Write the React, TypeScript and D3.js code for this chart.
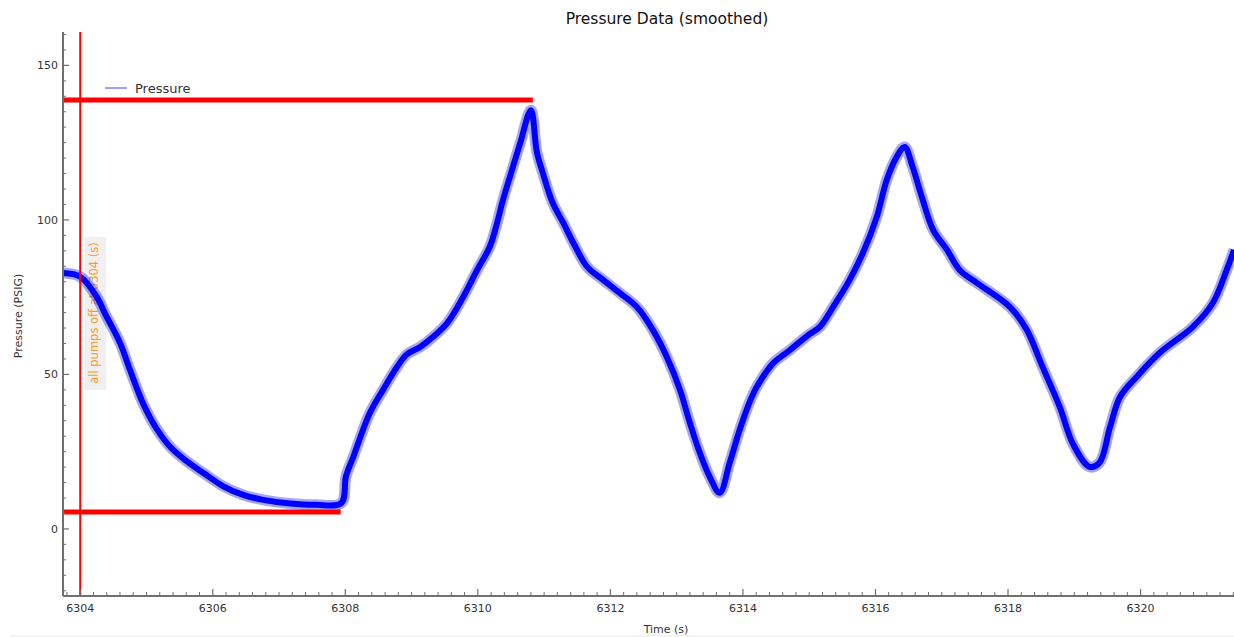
import React from "react";
import * as d3 from "d3";

// ---- data ----
const timeS = [
  6303.74, 6304.0, 6304.24, 6304.39, 6304.6, 6304.75, 6304.95, 6305.15, 6305.36, 6305.6,
  6305.86, 6306.16, 6306.46, 6306.76, 6307.17, 6307.56, 6307.94, 6308.01, 6308.12, 6308.37,
  6308.57, 6308.78, 6308.93, 6309.13, 6309.32, 6309.54, 6309.78, 6309.99, 6310.18, 6310.29,
  6310.38, 6310.53, 6310.64, 6310.8, 6310.89, 6310.98, 6311.13, 6311.29, 6311.44, 6311.65,
  6311.89, 6312.14, 6312.4, 6312.64, 6312.85, 6313.05, 6313.2, 6313.35, 6313.5, 6313.65,
  6313.8, 6313.95, 6314.11, 6314.21, 6314.45, 6314.71, 6314.97, 6315.16, 6315.36, 6315.61,
  6315.81, 6316.02, 6316.17, 6316.32, 6316.44, 6316.56, 6316.7, 6316.87, 6317.08, 6317.27,
  6317.53, 6318.03, 6318.28, 6318.52, 6318.78, 6318.98, 6319.23, 6319.38, 6319.54, 6319.69,
  6319.94, 6320.29, 6320.79, 6321.09, 6321.3, 6321.41,
];
const pressurePSIG = [
  82.8, 81.6, 75.4, 69.0, 60.2, 51.5, 40.5, 32.5, 26.5, 22.0,
  18.1, 13.8, 11.0, 9.4, 8.2, 7.8, 8.4, 17.0, 23.3, 37.5,
  45.0, 52.4, 56.5, 58.9, 62.1, 66.7, 75.1, 83.8, 91.3, 99.0,
  106.5, 117.2, 124.9, 135.5, 122.0, 115.2, 105.5, 99.0, 92.6, 84.8,
  80.6, 76.4, 71.8, 64.4, 55.7, 45.0, 34.3, 24.6, 16.8, 11.7,
  21.4, 32.0, 41.5, 46.0, 53.5, 57.9, 62.5, 65.4, 71.8, 80.6,
  89.3, 101.0, 112.9, 120.4, 123.6, 117.2, 107.4, 96.8, 90.3, 83.8,
  79.6, 71.8, 64.5, 52.5, 39.5, 27.5, 20.1, 21.4, 33.0, 42.7,
  49.2, 57.0, 65.4, 73.1, 83.8, 90.3,
];

const pumpsOffTime = 6304;
const maxLevel = { value: 138.8, until: 6310.83 };
const minLevel = { value: 5.5, until: 6307.93 };

const xDomain = [6303.74, 6321.41];
const yDomain = [-21.7, 160.8];
const yMajorTicks = [0, 50, 100, 150];
const xMajorTicks = [6304, 6306, 6308, 6310, 6312, 6314, 6316, 6318, 6320];

const W = 1234;
const H = 637;
const L = 63, R = 1234, T = 32, B = 596;
const FONT = "'DejaVu Sans', sans-serif";

export default function App() {
  const x = d3.scaleLinear().domain(xDomain).range([L, R]);
  const y = d3.scaleLinear().domain(yDomain).range([B, T]);

  const pts = timeS.map((t, i) => [t, pressurePSIG[i]] as [number, number]);
  const line = d3
    .line<[number, number]>()
    .x((d) => x(d[0]))
    .y((d) => y(d[1]))
    .curve(d3.curveCatmullRom.alpha(0.5));
  const path = line(pts) || "";

  const yMinor = d3.range(-20, 161, 5).filter((v) => v % 50 !== 0);
  const xMinor = d3
    .range(0, 89)
    .map((i) => +(6303.8 + i * 0.2).toFixed(2))
    .filter((v) => v <= xDomain[1] && Math.abs(v / 2 - Math.round(v / 2)) > 1e-6);

  const axisColor = "#707070";
  const textColor = "#333";

  const annX = x(pumpsOffTime) + 14;
  const annY = 313;

  return (
    <svg
      width={W}
      height={H}
      style={{ position: "absolute", left: 0, top: 0, background: "#fff" }}
      fontFamily={FONT}
    >
      <defs>
        <clipPath id="plot">
          <rect x={L} y={T} width={R - L} height={B - T} />
        </clipPath>
      </defs>

      <text x={667} y={24} textAnchor="middle" fontSize={15.5} fill="#111">
        Pressure Data (smoothed)
      </text>

      {/* annotation label */}
      <rect x={annX - 10} y={237} width={22} height={153} fill="#ececec" opacity={0.8} />
      <text
        transform={`translate(${annX + 4},${annY}) rotate(-90)`}
        textAnchor="middle"
        fontSize={11.5}
        fill="#ff9a2e"
      >
        all pumps off at {pumpsOffTime} (s)
      </text>

      {/* pressure series */}
      <g clipPath="url(#plot)">
        <path d={path} fill="none" stroke="#0000ff" strokeOpacity={0.35} strokeWidth={11} strokeLinejoin="round" />
        <path d={path} fill="none" stroke="#0000ff" strokeWidth={6} strokeLinejoin="round" />
      </g>

      {/* red reference lines */}
      <line x1={x(pumpsOffTime)} x2={x(pumpsOffTime)} y1={T} y2={B} stroke="#ff0000" strokeWidth={2} />
      <line x1={L} x2={x(maxLevel.until)} y1={y(maxLevel.value)} y2={y(maxLevel.value)} stroke="#ff0000" strokeWidth={5} />
      <line x1={L} x2={x(minLevel.until)} y1={y(minLevel.value)} y2={y(minLevel.value)} stroke="#ff0000" strokeWidth={5} />

      {/* legend */}
      <line x1={105} x2={127} y1={88} y2={88} stroke="#7f7fff" strokeWidth={1.5} />
      <text x={135} y={93} fontSize={13} fill={textColor}>
        Pressure
      </text>

      {/* y axis */}
      <line x1={L} x2={L} y1={T} y2={B} stroke={axisColor} strokeWidth={2} />
      {yMinor.map((v) => (
        <line key={"ym" + v} x1={L} x2={L + 3} y1={y(v)} y2={y(v)} stroke={axisColor} strokeWidth={1} />
      ))}
      {yMajorTicks.map((v) => (
        <g key={"y" + v}>
          <line x1={L} x2={L + 6} y1={y(v)} y2={y(v)} stroke={axisColor} strokeWidth={1.2} />
          <text x={L - 5} y={y(v) + 4} textAnchor="end" fontSize={11} fill={textColor}>
            {v}
          </text>
        </g>
      ))}
      <text
        transform={`translate(22,${(T + B) / 2 + 2}) rotate(-90)`}
        textAnchor="middle"
        fontSize={11}
        fill={textColor}
      >
        Pressure (PSIG)
      </text>

      {/* x axis */}
      <line x1={L} x2={R} y1={B} y2={B} stroke={axisColor} strokeWidth={2} />
      {xMinor.map((v) => (
        <line key={"xm" + v} x1={x(v)} x2={x(v)} y1={B} y2={B - 4} stroke={axisColor} strokeWidth={1} />
      ))}
      {xMajorTicks.map((v) => (
        <g key={"x" + v}>
          <line x1={x(v)} x2={x(v)} y1={B} y2={B - 7} stroke={axisColor} strokeWidth={1.2} />
          <text x={x(v)} y={B + 16} textAnchor="middle" fontSize={11} fill={textColor}>
            {v}
          </text>
        </g>
      ))}
      <text x={666} y={H - 4} textAnchor="middle" fontSize={11} fill={textColor}>
        Time (s)
      </text>

      <line x1={10} x2={W} y1={636} y2={636} stroke="#e8e8e8" strokeWidth={1} />
    </svg>
  );
}
